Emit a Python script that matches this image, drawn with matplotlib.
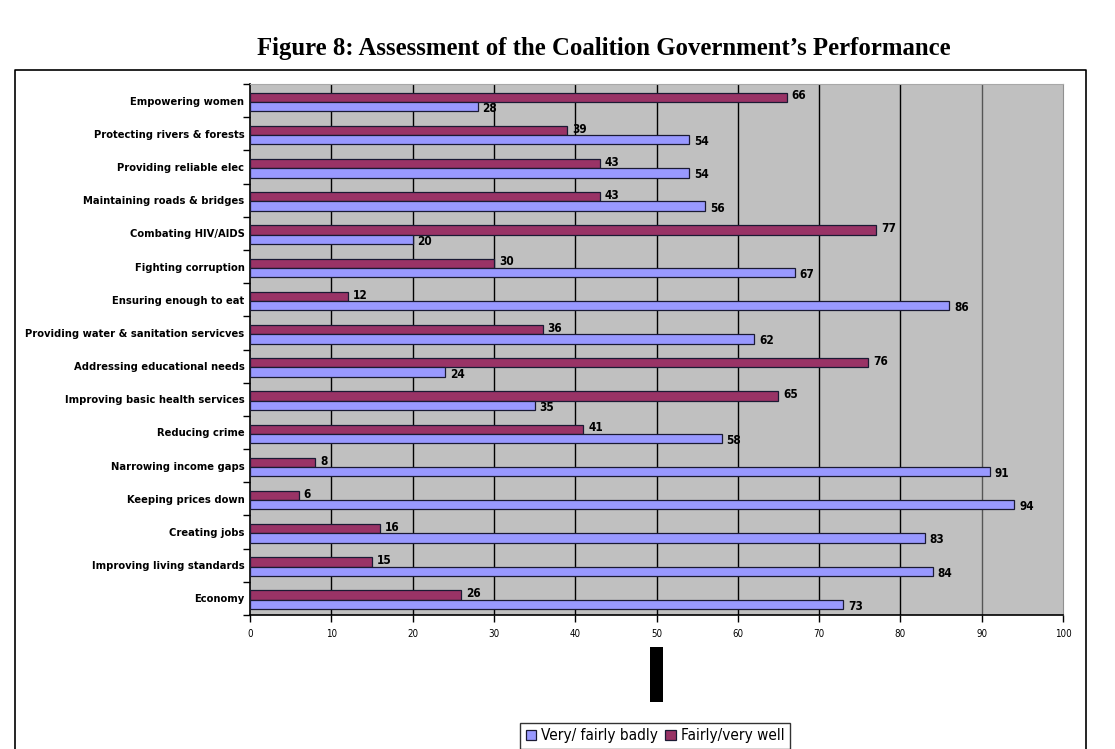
import matplotlib
matplotlib.use("Agg")
import matplotlib.pyplot as plt
import numpy as np
from matplotlib.patches import Rectangle
from matplotlib.lines import Line2D

categories = ["Empowering women", "Protecting rivers & forests", "Providing reliable elec",
              "Maintaining roads & bridges", "Combating HIV/AIDS", "Fighting corruption",
              "Ensuring enough to eat", "Providing water & sanitation servicves",
              "Addressing educational needs", "Improving basic health services",
              "Reducing crime", "Narrowing income gaps", "Keeping prices down",
              "Creating jobs", "Improving living standards", "Economy"]
well = [66, 39, 43, 43, 77, 30, 12, 36, 76, 65, 41, 8, 6, 16, 15, 26]
badly = [28, 54, 54, 56, 20, 67, 86, 62, 24, 35, 58, 91, 94, 83, 84, 73]
xticks = [0, 10, 20, 30, 40, 50, 60, 70, 80, 90, 100]

narrow = ['DejaVu Sans']
c_well = '#993366'
c_bad = '#9999ff'

fig = plt.figure(figsize=(11.15, 7.49), dpi=100)
ax = fig.add_axes([250/1115, 134/749, 813/1115, 531/749])
ax.set_facecolor('#c0c0c0')

y = np.arange(len(categories))
h = 0.28
ax.barh(y - h/2 + 0.04, well, height=h, color=c_well, edgecolor='#1a1a33', linewidth=0.9, zorder=3)
ax.barh(y + h/2 + 0.04, badly, height=h, color=c_bad, edgecolor='#1a1a33', linewidth=0.9, zorder=3)

for i in range(len(categories)):
    ax.text(well[i] + 0.6, y[i] - h/2 + 0.0, str(well[i]), family=narrow, fontweight='bold',
            fontstretch='condensed', fontsize=8.5, va='center', ha='left', zorder=4)
    ax.text(badly[i] + 0.6, y[i] + h/2 + 0.1, str(badly[i]), family=narrow, fontweight='bold',
            fontstretch='condensed', fontsize=8.5, va='center', ha='left', zorder=4)

ax.set_xlim(0, 100)
ax.set_ylim(len(categories) - 0.5, -0.5)
ax.set_xticks(xticks)
ax.set_xticklabels([str(t) for t in xticks], family=narrow, fontstretch='condensed', fontsize=7)
ax.set_yticks(y)
ax.set_yticklabels(categories, family=narrow, fontweight='bold', fontstretch='condensed', fontsize=8)
ax.set_yticks(np.arange(len(categories) + 1) - 0.5, minor=True)
ax.tick_params(axis='y', which='major', length=0, pad=4)
ax.tick_params(axis='y', which='minor', length=5, direction='out', width=1)
ax.tick_params(axis='x', length=5, direction='out', width=1, pad=5)

for t in xticks[1:-2]:
    ax.axvline(t, color='black', linewidth=1, zorder=1)
ax.axvline(90, color='#555555', linewidth=1, zorder=1)

ax.spines['left'].set_linewidth(1.2)
ax.spines['bottom'].set_linewidth(1.2)
ax.spines['top'].set_color('#a8a8a8')
ax.spines['right'].set_color('#909090')

fig.text(604/1115, 1 - 49/749, "Figure 8: Assessment of the Coalition Government\u2019s Performance",
         family=['Liberation Serif', 'DejaVu Serif'], fontweight='bold', fontsize=17.8,
         ha='center', va='center')

# outer frame, open at the bottom
fig.add_artist(Line2D([15/1115, 15/1115, 1086/1115, 1086/1115], [0, 1 - 70/749, 1 - 70/749, 0],
                      transform=fig.transFigure, color='black', linewidth=1.2))

# black mark under the axis
fig.add_artist(Rectangle((650/1115, 1 - 702/749), 13/1115, 55/749, transform=fig.transFigure,
                         facecolor='black', edgecolor='none'))

handles = [Rectangle((0, 0), 1, 1, facecolor=c_bad, edgecolor='#1a1a33', linewidth=0.9),
           Rectangle((0, 0), 1, 1, facecolor=c_well, edgecolor='#1a1a33', linewidth=0.9)]
leg = fig.legend(handles, ["Very/ fairly badly", "Fairly/very well"], loc='upper center',
                 bbox_to_anchor=(655/1115, 1 - 723/749), ncol=2, frameon=True, fancybox=False,
                 prop={'family': narrow, 'size': 11, 'stretch': 'condensed'},
                 handlelength=0.7, handleheight=0.7,
                 handletextpad=0.3, columnspacing=0.5, borderpad=0.35, borderaxespad=0)
leg.get_frame().set_edgecolor('black')
leg.get_frame().set_linewidth(1)

plt.savefig('out.png', dpi=100)
